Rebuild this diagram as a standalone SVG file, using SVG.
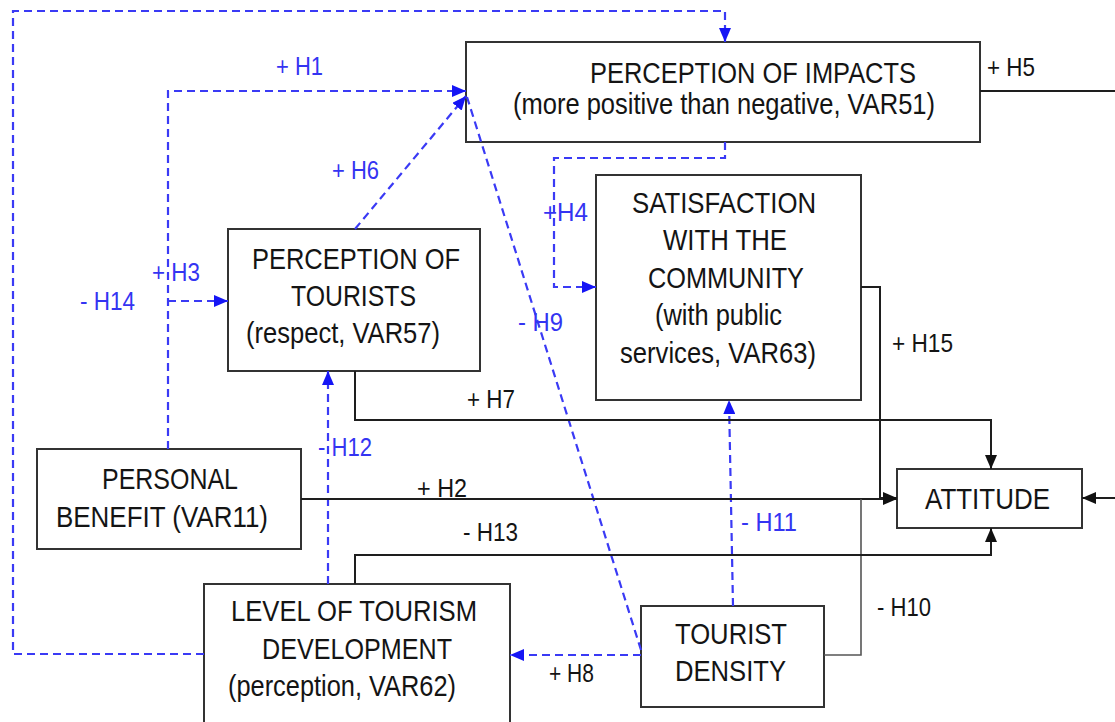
<svg xmlns="http://www.w3.org/2000/svg" width="1115" height="722" viewBox="0 0 1115 722">
<style>
.box{fill:#fff;stroke:#333;stroke-width:2}
.t{font-family:"Liberation Sans",Arial,sans-serif;font-size:30px;fill:#141414}
.lb{font-family:"Liberation Sans",Arial,sans-serif;font-size:25px;fill:#141414}
.lbb{font-family:"Liberation Sans",Arial,sans-serif;font-size:25px;fill:#3434f2}
.s{fill:none;stroke:#1e1e1e;stroke-width:2}
.g{fill:none;stroke:#555;stroke-width:1.6}
.d{fill:none;stroke:#3a3af5;stroke-width:2.2;stroke-dasharray:8 5}
</style>
<defs>
<marker id="ak" viewBox="0 0 14 12" refX="14" refY="6" markerWidth="14" markerHeight="12" orient="auto" markerUnits="userSpaceOnUse"><path d="M0,0 L14,6 L0,12 z" fill="#111"/></marker>
<marker id="ab" viewBox="0 0 14 12" refX="14" refY="6" markerWidth="14" markerHeight="12" orient="auto" markerUnits="userSpaceOnUse"><path d="M0,0 L14,6 L0,12 z" fill="#1515f5"/></marker>
</defs>
<rect width="1115" height="722" fill="#fff"/>
<g id="impacts">
<rect class="box" x="466" y="42" width="514" height="100"/>
<text class="t" x="590" y="83" textLength="326" lengthAdjust="spacingAndGlyphs">PERCEPTION OF IMPACTS</text>
<text class="t" x="513" y="114" textLength="422" lengthAdjust="spacingAndGlyphs">(more positive than negative, VAR51)</text>
</g>
<g id="satisfaction">
<rect class="box" x="596" y="175" width="265" height="225"/>
<text class="t" x="632" y="213" textLength="184" lengthAdjust="spacingAndGlyphs">SATISFACTION</text>
<text class="t" x="663" y="250" textLength="124" lengthAdjust="spacingAndGlyphs">WITH THE</text>
<text class="t" x="648" y="288" textLength="156" lengthAdjust="spacingAndGlyphs">COMMUNITY</text>
<text class="t" x="655" y="325" textLength="127" lengthAdjust="spacingAndGlyphs">(with public</text>
<text class="t" x="620" y="363" textLength="196" lengthAdjust="spacingAndGlyphs">services, VAR63)</text>
</g>
<g id="tourists">
<rect class="box" x="228" y="229" width="252" height="142"/>
<text class="t" x="252" y="269" textLength="208" lengthAdjust="spacingAndGlyphs">PERCEPTION OF</text>
<text class="t" x="291" y="306" textLength="125" lengthAdjust="spacingAndGlyphs">TOURISTS</text>
<text class="t" x="246" y="343" textLength="194" lengthAdjust="spacingAndGlyphs">(respect, VAR57)</text>
</g>
<g id="benefit">
<rect class="box" x="37" y="449" width="264" height="100"/>
<text class="t" x="102" y="489" textLength="136" lengthAdjust="spacingAndGlyphs">PERSONAL</text>
<text class="t" x="56" y="527" textLength="212" lengthAdjust="spacingAndGlyphs">BENEFIT (VAR11)</text>
</g>
<g id="attitude">
<rect class="box" x="897" y="469" width="185" height="59"/>
<text class="t" x="925" y="509" textLength="125" lengthAdjust="spacingAndGlyphs">ATTITUDE</text>
</g>
<g id="level">
<rect class="box" x="204" y="584" width="306" height="150"/>
<text class="t" x="231" y="621" textLength="246" lengthAdjust="spacingAndGlyphs">LEVEL OF TOURISM</text>
<text class="t" x="262" y="659" textLength="190" lengthAdjust="spacingAndGlyphs">DEVELOPMENT</text>
<text class="t" x="228" y="696" textLength="228" lengthAdjust="spacingAndGlyphs">(perception, VAR62)</text>
</g>
<g id="density">
<rect class="box" x="641" y="606" width="183" height="101"/>
<text class="t" x="675" y="644" textLength="112" lengthAdjust="spacingAndGlyphs">TOURIST</text>
<text class="t" x="675" y="681" textLength="111" lengthAdjust="spacingAndGlyphs">DENSITY</text>
</g>
<g id="connectors">
<path class="d" d="M204,654 H13 V11 H725 V42" marker-end="url(#ab)"/>
<path class="d" d="M168,449 V91 H466" marker-end="url(#ab)"/>
<path class="d" d="M168,301 H228" marker-end="url(#ab)"/>
<path class="d" d="M355,229 L466,96" marker-end="url(#ab)"/>
<path class="d" d="M641,650 L467,97"/>
<path class="d" d="M725,142 V158 H554 V287 H596" marker-end="url(#ab)"/>
<path class="d" d="M733,606 L729,400" marker-end="url(#ab)"/>
<path class="d" d="M328,584 V371" marker-end="url(#ab)"/>
<path class="d" d="M641,655 H510" marker-end="url(#ab)"/>
<path class="s" d="M980,91 H1115"/>
<path class="s" d="M1115,498 H1082" marker-end="url(#ak)"/>
<path class="s" d="M355,371 V420 H991 V469" marker-end="url(#ak)"/>
<path class="s" d="M861,287 H880 V498 H897" marker-end="url(#ak)"/>
<path class="s" d="M301,499 H897" marker-end="url(#ak)"/>
<path class="g" d="M824,655 H861 V499"/>
<path class="s" d="M355,584 V555 H991 V528" marker-end="url(#ak)"/>
<text class="lbb" x="276" y="75" textLength="47" lengthAdjust="spacingAndGlyphs">+ H1</text>
<text class="lbb" x="332" y="179" textLength="47" lengthAdjust="spacingAndGlyphs">+ H6</text>
<text class="lb" x="987" y="76" textLength="48" lengthAdjust="spacingAndGlyphs">+ H5</text>
<text class="lbb" x="543" y="221" textLength="45" lengthAdjust="spacingAndGlyphs">+H4</text>
<text class="lbb" x="152" y="281" textLength="48" lengthAdjust="spacingAndGlyphs">+ H3</text>
<text class="lbb" x="80" y="310" textLength="55" lengthAdjust="spacingAndGlyphs">- H14</text>
<text class="lbb" x="518" y="331" textLength="45" lengthAdjust="spacingAndGlyphs">- H9</text>
<text class="lb" x="892" y="352" textLength="61" lengthAdjust="spacingAndGlyphs">+ H15</text>
<text class="lb" x="467" y="408" textLength="48" lengthAdjust="spacingAndGlyphs">+ H7</text>
<text class="lbb" x="318" y="456" textLength="54" lengthAdjust="spacingAndGlyphs">- H12</text>
<text class="lb" x="417" y="497" textLength="50" lengthAdjust="spacingAndGlyphs">+ H2</text>
<text class="lb" x="463" y="541" textLength="55" lengthAdjust="spacingAndGlyphs">- H13</text>
<text class="lbb" x="741" y="531" textLength="56" lengthAdjust="spacingAndGlyphs">- H11</text>
<text class="lb" x="877" y="616" textLength="54" lengthAdjust="spacingAndGlyphs">- H10</text>
<text class="lb" x="549" y="682" textLength="45" lengthAdjust="spacingAndGlyphs">+ H8</text>
</g>
</svg>
